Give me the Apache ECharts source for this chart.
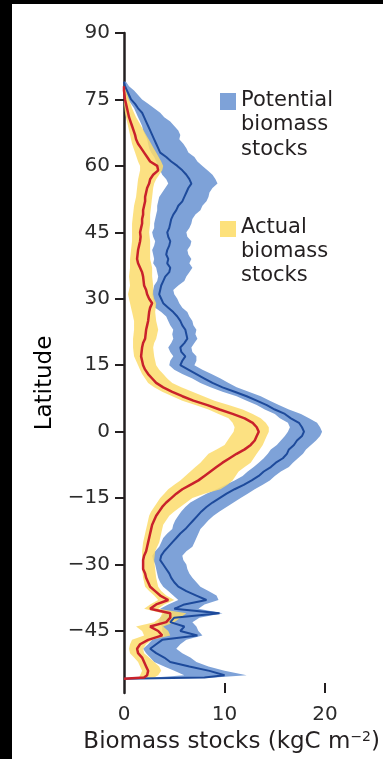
<!DOCTYPE html>
<html>
<head>
<meta charset="utf-8">
<script src="https://cdn.jsdelivr.net/npm/echarts@6/dist/echarts.min.js"></script>
<style>
html, body { margin: 0; padding: 0; background: #000; }
#main { position: absolute; left: 12px; top: 4px; width: 371px; height: 755px; background: #fff; }
</style>
</head>
<body>
<div id="main"></div>
<script>
// potential biomass: latitude rows, mean and band edges (kgC m-2)
var potLat = [79, 78, 77, 76, 75, 74, 73, 72, 71, 70,
  69, 68, 67, 66, 65, 64, 63, 62, 61, 60,
  59, 58, 57, 56, 55, 54, 53, 52, 51, 50,
  49, 48, 47, 46, 45, 44, 43, 42, 41, 40,
  39, 38, 37, 36, 35, 34, 33, 32, 31, 30,
  29, 28, 27, 26, 25, 24, 23, 22, 21, 20,
  19, 18, 17, 16, 15, 14, 13, 12, 11, 10,
  9, 8, 7, 6, 5, 4, 3, 2, 1, 0,
  -1, -2, -3, -4, -5, -6, -7, -8, -9, -10,
  -11, -12, -13, -14, -15, -16, -17, -18, -19, -20,
  -21, -22, -23, -24, -25, -26, -27, -28, -29, -30,
  -31, -32, -33, -34, -35, -36, -37, -38, -39, -40,
  -41, -42, -43, -44, -45, -46, -47, -48, -49, -50,
  -51, -52, -53, -54, -55, -55.5, -55.8];
var potMean = [0, 0.1, 0.3, 0.5, 0.7, 1.1, 1.4, 1.8, 2.0, 2.2,
  2.4, 2.6, 2.8, 3.0, 3.2, 3.4, 3.6, 4.2, 4.7, 5.3,
  5.8, 6.2, 6.5, 6.7, 6.4, 6.2, 6.0, 5.8, 5.4, 5.2,
  4.9, 4.7, 4.6, 4.5, 4.3, 4.4, 4.6, 4.5, 4.3, 4.2,
  4.4, 4.3, 4.6, 4.5, 4.1, 3.9, 3.7, 3.6, 3.5, 3.7,
  3.9, 4.4, 4.9, 5.3, 5.6, 5.8, 6.1, 6.2, 6.3, 6.0,
  5.6, 5.7, 6.1, 5.8, 5.6, 6.4, 7.2, 8.0, 8.8, 9.8,
  11.0, 12.2, 13.2, 14.2, 15.0, 16.0, 16.6, 17.4, 17.7, 17.9,
  17.7, 17.2, 16.9, 16.4, 16.2, 15.8, 15.1, 14.6, 13.9, 13.4,
  12.7, 11.9, 11.0, 10.2, 9.5, 8.8, 8.2, 7.7, 7.3, 6.9,
  6.5, 6.1, 5.6, 5.2, 4.8, 4.4, 4.0, 3.7, 3.6, 3.9,
  4.2, 4.5, 4.7, 5.0, 5.4, 6.2, 7.2, 8.2, 6.0, 5.0,
  9.5, 5.0, 4.6, 6.0, 5.6, 7.3, 3.8, 3.2, 2.6, 3.2,
  4.0, 4.6, 6.5, 8.5, 10.0, 8.0, 0];
var potLow = [0, 0, 0.1, 0.2, 0.4, 0.7, 1.0, 1.2, 1.4, 1.6,
  1.8, 1.9, 2.1, 2.3, 2.4, 2.5, 2.7, 3.0, 3.2, 3.4,
  3.6, 3.8, 4.2, 4.4, 4.1, 3.8, 3.5, 3.4, 3.3, 3.3,
  3.2, 3.1, 3.0, 3.0, 2.8, 2.9, 3.1, 3.0, 2.8, 2.9,
  3.0, 2.9, 3.2, 3.3, 3.4, 3.3, 3.0, 2.9, 2.8, 2.9,
  3.0, 3.1, 3.7, 4.2, 4.4, 4.6, 4.9, 4.8, 4.9, 4.7,
  4.4, 4.6, 4.9, 4.6, 4.5, 5.0, 5.8, 6.8, 7.6, 8.6,
  9.8, 11.2, 12.2, 13.2, 14.0, 15.0, 15.5, 16.3, 16.5, 16.3,
  16.0, 15.6, 15.2, 14.6, 14.3, 13.9, 13.4, 12.9, 12.3, 11.8,
  11.0, 10.1, 9.2, 8.2, 7.4, 6.6, 6.1, 5.7, 5.4, 5.1,
  4.9, 4.8, 4.3, 3.9, 3.7, 3.5, 3.1, 2.8, 2.9, 3.1,
  3.2, 3.3, 3.4, 3.6, 3.9, 4.4, 4.9, 5.4, 4.4, 3.6,
  4.0, 3.6, 3.4, 3.8, 3.8, 4.0, 2.8, 2.4, 1.9, 2.2,
  2.6, 3.0, 4.0, 5.0, 6.0, 3.0, 0];
var potHigh = [0.2, 0.5, 1.0, 1.4, 1.8, 2.4, 3.0, 3.6, 4.0, 4.6,
  5.0, 5.4, 5.6, 5.5, 5.9, 6.2, 6.4, 7.0, 7.3, 7.8,
  8.3, 8.8, 9.1, 9.3, 8.8, 8.5, 8.4, 8.2, 7.8, 7.6,
  7.1, 6.8, 6.7, 6.5, 6.2, 6.3, 6.7, 6.6, 6.3, 6.4,
  6.7, 6.5, 6.8, 6.5, 6.2, 6.0, 5.4, 4.9, 5.0, 5.3,
  5.5, 5.8, 6.3, 6.5, 6.8, 6.9, 7.2, 7.1, 7.3, 7.0,
  6.7, 6.8, 7.2, 7.2, 7.0, 7.8, 8.7, 9.6, 10.4, 11.2,
  12.4, 13.6, 14.5, 15.4, 16.4, 17.6, 18.4, 19.2, 19.5, 19.7,
  19.5, 19.1, 18.6, 18.1, 17.8, 17.3, 16.8, 16.4, 15.6, 15.0,
  14.5, 13.8, 13.0, 12.3, 11.6, 10.9, 10.2, 9.5, 8.9, 8.4,
  8.0, 7.6, 7.4, 7.2, 7.0, 6.8, 6.2, 5.8, 5.9, 6.2,
  6.3, 6.5, 6.8, 7.2, 7.6, 8.4, 9.2, 9.4, 8.0, 7.4,
  9.8, 7.5, 6.8, 7.2, 7.4, 7.8, 6.2, 5.6, 5.2, 5.8,
  6.6, 7.2, 8.4, 10.0, 12.2, 9.0, 0];

// actual biomass: latitude rows, mean and band edges (kgC m-2)
var actLat = [78, 77, 76, 75, 74, 73, 72, 71, 70, 69,
  68, 67, 66, 65, 64, 63, 62, 61, 60, 59,
  58, 57, 56, 55, 54, 53, 52, 51, 50, 49,
  48, 47, 46, 45, 44, 43, 42, 41, 40, 39,
  38, 37, 36, 35, 34, 33, 32, 31, 30, 29,
  28, 27, 26, 25, 24, 23, 22, 21, 20, 19,
  18, 17, 16, 15, 14, 13, 12, 11, 10, 9,
  8, 7, 6, 5, 4, 3, 2, 1, 0, -1,
  -2, -3, -4, -5, -6, -7, -8, -9, -10, -11,
  -12, -13, -14, -15, -16, -17, -18, -19, -20, -21,
  -22, -23, -24, -25, -26, -27, -28, -29, -30, -31,
  -32, -33, -34, -35, -36, -37, -38, -39, -40, -41,
  -42, -43, -44, -45, -46, -47, -48, -49, -50, -51,
  -52, -53, -54, -55, -55.5, -55.8];
var actMean = [0, 0, 0.05, 0.1, 0.2, 0.3, 0.4, 0.5, 0.65, 0.8,
  0.95, 1.1, 1.2, 1.4, 1.7, 2.0, 2.3, 2.6, 3.3, 3.4,
  2.9, 2.6, 2.5, 2.3, 2.2, 2.1, 2.1, 2.0, 1.9, 1.9,
  1.8, 1.8, 1.7, 1.6, 1.65, 1.6, 1.5, 1.4, 1.35, 1.3,
  1.4, 1.6, 1.8, 1.9, 1.95, 2.0, 2.2, 2.3, 2.5, 2.8,
  2.6, 2.5, 2.45, 2.4, 2.3, 2.2, 2.15, 2.1, 1.9, 1.8,
  1.75, 1.7, 1.8, 1.9, 2.1, 2.4, 2.8, 3.2, 3.9, 4.8,
  5.8, 6.9, 8.3, 9.5, 10.8, 12.0, 12.8, 13.2, 13.4, 13.2,
  13.0, 12.6, 12.0, 11.2, 10.5, 9.8, 9.2, 8.6, 8.0, 7.4,
  6.6, 5.8, 5.2, 4.7, 4.2, 3.8, 3.5, 3.2, 3.0, 2.8,
  2.7, 2.6, 2.5, 2.4, 2.3, 2.2, 2.0, 1.9, 1.9, 1.9,
  2.1, 2.2, 2.4, 2.6, 3.1, 3.6, 4.4, 3.2, 2.6, 4.6,
  4.6, 4.2, 2.6, 3.4, 3.8, 2.4, 1.6, 1.3, 1.4, 1.8,
  2.0, 2.2, 2.4, 2.3, 2.0, 0];
var actLow = [0, 0, 0, 0, 0, 0.05, 0.1, 0.2, 0.3, 0.4,
  0.5, 0.6, 0.7, 0.8, 0.95, 1.1, 1.25, 1.4, 1.6, 1.6,
  1.5, 1.4, 1.35, 1.3, 1.25, 1.2, 1.1, 1.0, 0.95, 0.9,
  0.85, 0.8, 0.8, 0.8, 0.8, 0.8, 0.75, 0.7, 0.65, 0.6,
  0.6, 0.6, 0.55, 0.5, 0.55, 0.6, 0.5, 0.4, 0.5, 0.6,
  0.7, 0.8, 0.9, 1.0, 1.0, 1.0, 0.95, 0.9, 0.9, 0.9,
  0.95, 1.0, 1.2, 1.4, 1.6, 1.8, 2.1, 2.4, 3.0, 3.8,
  4.8, 5.8, 7.1, 8.4, 9.4, 10.4, 10.8, 11.0, 10.9, 10.6,
  10.3, 10.0, 9.2, 8.4, 8.0, 7.6, 7.1, 6.6, 6.1, 5.6,
  5.0, 4.4, 4.0, 3.6, 3.3, 3.0, 2.7, 2.5, 2.4, 2.3,
  2.2, 2.1, 2.0, 1.9, 1.85, 1.8, 1.8, 1.8, 1.8, 1.8,
  1.85, 1.9, 2.0, 2.1, 2.5, 3.0, 3.4, 2.6, 2.0, 3.8,
  3.6, 3.0, 1.2, 1.8, 2.0, 0.8, 0.6, 0.5, 0.6, 1.0,
  1.4, 1.6, 1.8, 1.6, 1.5, 0];
var actHigh = [0.1, 0.2, 0.35, 0.5, 0.65, 0.8, 1.0, 1.2, 1.45, 1.7,
  1.95, 2.2, 2.45, 2.7, 2.95, 3.2, 3.45, 3.7, 3.9, 3.8,
  3.5, 3.2, 3.0, 2.9, 2.85, 2.8, 2.75, 2.7, 2.65, 2.6,
  2.6, 2.6, 2.55, 2.5, 2.55, 2.6, 2.6, 2.6, 2.6, 2.6,
  2.7, 2.8, 2.8, 2.8, 2.85, 2.9, 2.9, 2.9, 3.0, 3.2,
  3.15, 3.1, 3.15, 3.2, 3.3, 3.4, 3.3, 3.2, 3.0, 2.9,
  2.95, 3.0, 3.1, 3.2, 3.5, 3.9, 4.3, 4.8, 5.7, 6.8,
  7.9, 9.0, 10.4, 11.8, 12.8, 13.6, 14.1, 14.4, 14.4, 14.2,
  14.0, 13.8, 13.5, 13.2, 12.9, 12.6, 12.0, 11.4, 11.1, 10.8,
  10.3, 9.6, 8.0, 6.8, 6.2, 5.6, 5.0, 4.5, 4.2, 3.9,
  3.8, 3.7, 3.6, 3.5, 3.3, 3.1, 3.05, 3.0, 3.05, 3.1,
  3.15, 3.2, 3.3, 3.4, 3.7, 4.2, 5.0, 4.0, 3.4, 6.2,
  5.6, 5.0, 3.9, 4.4, 4.6, 2.8, 2.2, 1.9, 2.0, 2.5,
  3.0, 3.5, 3.7, 3.4, 3.0, 0];

var yTicks = [-45, -30, -15, 0, 15, 30, 45, 60, 75, 90];
var xTicks = [10, 20];
var xLabels = [0, 10, 20];

var font = '"DejaVu Sans", sans-serif';
var ink = '#231f20';

function band(lats, lo, hi, color, opacity) {
	return {
		type: 'custom',
		silent: true,
		z: 1,
		data: lats.map(function (l, i) { return [hi[i], l]; }),
		encode: { x: 0, y: 1 },
		renderItem: function (params, api) {
			if (params.dataIndex !== 0) return null;
			var pts = [];
			for (var i = 0; i < lats.length; i++) pts.push(api.coord([hi[i], lats[i]]));
			for (var j = lats.length - 1; j >= 0; j--) pts.push(api.coord([lo[j], lats[j]]));
			return { type: 'polygon', shape: { points: pts }, style: { fill: color, opacity: opacity } };
		}
	};
}

var myChart = echarts.init(document.getElementById('main'));

var option = {
	animation: false,
	backgroundColor: '#fff',
	grid: { left: 112, top: 29, width: 252, height: 660 },
	xAxis: {
		type: 'value', min: 0, max: 25,
		axisLine: { show: false, onZero: false },
		axisTick: { show: true, inside: true, length: 10, customValues: xTicks, lineStyle: { color: ink, width: 2 } },
		axisLabel: { customValues: xLabels, margin: 12, fontFamily: font, fontSize: 20, color: '#2b2b2b' },
		splitLine: { show: false },
		name: 'Biomass stocks (kgC m{sup|\u22122})',
		nameLocation: 'middle',
		nameGap: 34,
		nameTextStyle: {
			fontFamily: font, fontSize: 23, color: ink, padding: [0, 36, 0, 0],
			rich: { sup: { fontFamily: font, fontSize: 14, color: ink, verticalAlign: 'top', padding: [0, 0, 10, 0] } }
		}
	},
	yAxis: {
		type: 'value', min: -59, max: 90,
		axisLine: { show: true, onZero: false, lineStyle: { color: ink, width: 2.5 } },
		axisTick: { show: true, length: 9, customValues: yTicks, lineStyle: { color: ink, width: 2 } },
		axisLabel: {
			customValues: yTicks, margin: 14, fontFamily: font, fontSize: 20, color: '#2b2b2b',
			formatter: function (v) { return v < 0 ? '\u2212' + (-v) : '' + v; }
		},
		splitLine: { show: false },
		name: 'Latitude',
		nameLocation: 'middle',
		nameRotate: 90,
		nameGap: 66,
		nameTextStyle: { fontFamily: font, fontSize: 23, color: '#000', padding: [0, 40, 0, 0] }
	},
	graphic: [
		{ type: 'rect', left: 208, top: 89, shape: { width: 16, height: 17 }, style: { fill: '#7ea2d8' } },
		{ type: 'text', left: 229, top: 84, style: { text: 'Potential\nbiomass\nstocks', font: '21px ' + font, lineHeight: 24.5, fill: ink } },
		{ type: 'rect', left: 208, top: 217, shape: { width: 16, height: 16 }, style: { fill: '#fde17b' } },
		{ type: 'text', left: 229, top: 212, style: { text: 'Actual\nbiomass\nstocks', font: '21px ' + font, lineHeight: 24, fill: ink } }
	],
	series: [
		band(potLat, potLow, potHigh, '#7ea2d8', 1),
		band(actLat, actLow, actHigh, '#fcdc6c', 0.85),
		{
			name: 'Potential biomass stocks', type: 'line', z: 3,
			data: potLat.map(function (l, i) { return [potMean[i], l]; }),
			showSymbol: false,
			lineStyle: { color: '#1d4a9b', width: 2 }
		},
		{
			name: 'Actual biomass stocks', type: 'line', z: 3,
			data: actLat.map(function (l, i) { return [actMean[i], l]; }),
			showSymbol: false,
			lineStyle: { color: '#c9212b', width: 2.5 }
		}
	]
};

myChart.setOption(option);
</script>
</body>
</html>
